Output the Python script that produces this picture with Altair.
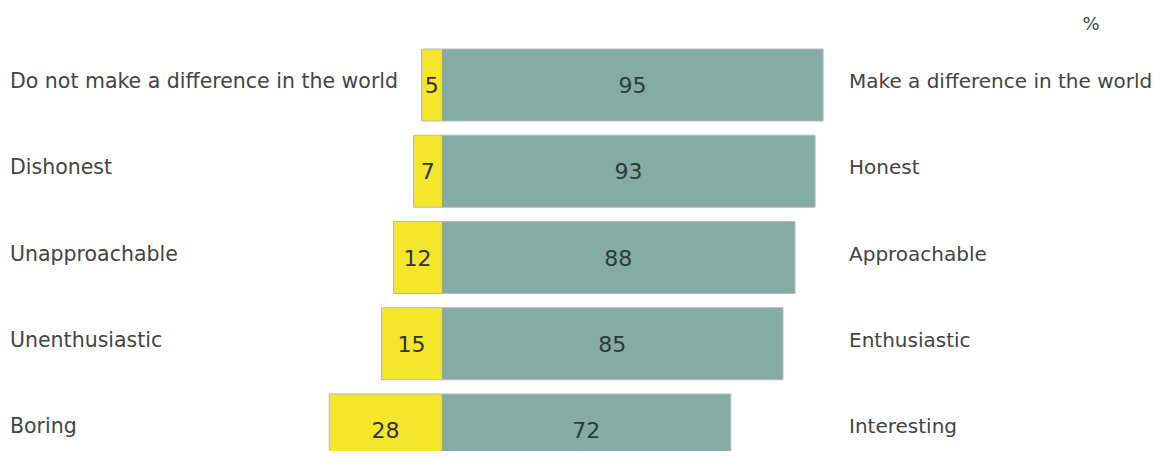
import altair as alt
import pandas as pd

left_labels = ["Do not make a difference in the world", "Dishonest", "Unapproachable",
               "Unenthusiastic", "Boring"]
right_labels = ["Make a difference in the world", "Honest", "Approachable",
                "Enthusiastic", "Interesting"]
negative = [5, 7, 12, 15, 28]
positive = [95, 93, 88, 85, 72]
unit_label = ["%"]

df = pd.DataFrame({
    "row": list(range(len(left_labels))),
    "left": left_labels,
    "right": right_labels,
    "neg": negative,
    "pos": positive,
})

FONT = "DejaVu Sans"
x_scale = alt.Scale(domain=[-108.02, 177.41], nice=False, zero=False)
y_scale = alt.Scale(domain=[-0.8928, 4.2435], reverse=True, nice=False, zero=False)

base = alt.Chart(df).transform_calculate(
    neg_x="-datum.neg",
    zero="0",
    top="datum.row - 0.4174",
    bottom="datum.row + 0.4174",
    neg_mid="-datum.neg / 2",
    pos_mid="datum.pos / 2",
)

yellow = base.mark_bar(color="#F4E62B").encode(
    x=alt.X("neg_x:Q", scale=x_scale, axis=None),
    x2="zero:Q",
    y=alt.Y("top:Q", scale=y_scale, axis=None),
    y2="bottom:Q",
)
teal = base.mark_bar(color="#84ABA4").encode(
    x=alt.X("zero:Q", scale=x_scale, axis=None),
    x2="pos:Q",
    y=alt.Y("top:Q", scale=y_scale, axis=None),
    y2="bottom:Q",
)
outline = base.mark_bar(fillOpacity=0, stroke="#b9b9b9", strokeWidth=1).encode(
    x=alt.X("neg_x:Q", scale=x_scale, axis=None),
    x2="pos:Q",
    y=alt.Y("top:Q", scale=y_scale, axis=None),
    y2="bottom:Q",
)

neg_text = base.mark_text(font=FONT, fontSize=22, color="#333333", baseline="middle", dy=1).encode(
    x=alt.X("neg_mid:Q", scale=x_scale, axis=None),
    y=alt.Y("row:Q", scale=y_scale, axis=None),
    text="neg:Q",
)
pos_text = base.mark_text(font=FONT, fontSize=22, color="#2c3b37", baseline="middle", dy=1).encode(
    x=alt.X("pos_mid:Q", scale=x_scale, axis=None),
    y=alt.Y("row:Q", scale=y_scale, axis=None),
    text="pos:Q",
)

left_text = base.mark_text(font=FONT, fontSize=20.5, color="#444444", align="left",
                           baseline="middle", dy=-3).encode(
    x=alt.value(2),
    y=alt.Y("row:Q", scale=y_scale, axis=None),
    text="left:N",
)
right_text = base.mark_text(font=FONT, fontSize=20, color="#444444", align="left",
                            baseline="middle", dy=-3).encode(
    x=alt.value(841),
    y=alt.Y("row:Q", scale=y_scale, axis=None),
    text="right:N",
)

pct = alt.Chart(pd.DataFrame({"t": unit_label})).mark_text(
    font=FONT, fontSize=18, color="#444444", baseline="middle"
).encode(
    x=alt.value(1083),
    y=alt.value(17),
    text="t:N",
)

chart = alt.layer(yellow, teal, outline, neg_text, pos_text, left_text, right_text, pct).properties(
    width=1146,
    height=443,
    padding=0,
    autosize=alt.AutoSizeParams(type="none"),
    background="white",
).configure_view(stroke=None)

chart.save("out.html", embed_options={"renderer": "svg", "actions": False})
